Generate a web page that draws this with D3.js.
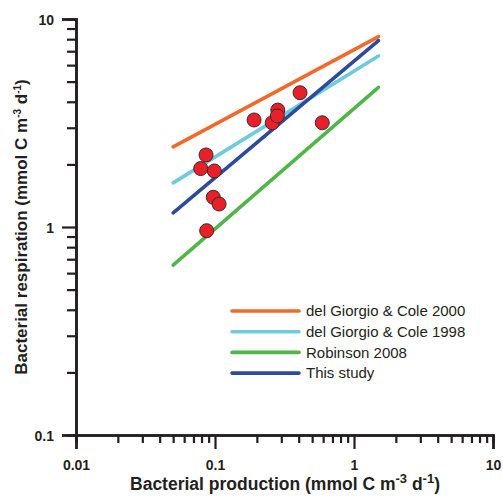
<!DOCTYPE html>
<html>
<head>
<meta charset="utf-8">
<script src="https://cdn.jsdelivr.net/npm/d3@7"></script>
<style>
  body { margin: 0; background: #fff; }
  text { font-family: "Liberation Sans", Arial, sans-serif; fill: #231f20; }
</style>
</head>
<body>
<svg id="chart"></svg>
<script>
// data
var bpValues = [0.409, 0.191, 0.283, 0.258, 0.281, 0.591, 0.0862, 0.0789, 0.0989, 0.0972, 0.107, 0.0871];
var brValues = [4.42, 3.27, 3.65, 3.17, 3.42, 3.17, 2.22, 1.91, 1.86, 1.39, 1.29, 0.96];

// regression lines, start and end (x = 0.05 .. 1.5)
var lineNames = ['del Giorgio & Cole 2000', 'del Giorgio & Cole 1998', 'Robinson 2008', 'This study'];
var lineColors = ['#f26a2a', '#6dcbdd', '#4fb648', '#2d4a9c'];
var lineX = [0.05, 1.5];
var lineStart = [2.43, 1.63, 0.656, 1.17];
var lineEnd = [8.22, 6.64, 4.69, 7.87];

var xTicks = [0.01, 0.1, 1, 10];
var yTicks = [0.1, 1, 10];

var config = { width: 503, height: 497 };
var margin = { top: 19, right: 10, bottom: 62, left: 76 },
  width = 493 - margin.left,
  height = 435 - margin.top;

var svg = d3.select('#chart')
  .attr('width', config.width)
  .attr('height', config.height);

var g = svg.append('g')
  .attr('transform', 'translate(' + margin.left + ',' + margin.top + ')');

var x = d3.scaleLog().domain([0.01, 10]).range([0, width]);
var y = d3.scaleLog().domain([0.1, 10]).range([height, 0]);

// minor ticks
function minors(lo, hi) {
  var out = [];
  for (var e = lo; e < hi; e++) {
    for (var k = 2; k <= 9; k++) out.push(k * Math.pow(10, e));
  }
  return out;
}

var xMinor = g.append('g')
  .attr('transform', 'translate(0,' + height + ')')
  .call(d3.axisBottom(x).tickValues(minors(-2, 1)).tickSize(8).tickFormat(''));
var yMinor = g.append('g')
  .call(d3.axisLeft(y).tickValues(minors(-1, 1)).tickSize(9).tickFormat(''));

var xAxis = g.append('g')
  .attr('transform', 'translate(0,' + height + ')')
  .call(d3.axisBottom(x).tickValues(xTicks).tickSize(14).tickPadding(11)
    .tickFormat(function(d) { return d >= 1 ? d3.format('d')(d) : String(d); }));
var yAxis = g.append('g')
  .call(d3.axisLeft(y).tickValues(yTicks).tickSize(14).tickPadding(8)
    .tickFormat(function(d) { return d >= 1 ? d3.format('d')(d) : String(d); }));

[xMinor, yMinor, xAxis, yAxis].forEach(function(a) {
  a.selectAll('.domain').attr('stroke', '#231f20').attr('stroke-width', 2.6);
  a.selectAll('.tick line').attr('stroke', '#231f20').attr('stroke-width', 2.2);
  a.selectAll('.tick text')
    .style('font-size', '14px')
    .style('font-weight', 'bold')
    .attr('fill', '#231f20');
});
yAxis.selectAll('.tick text').attr('dy', '0.36em');

// regression lines
var line = d3.line()
  .x(function(d) { return x(d[0]); })
  .y(function(d) { return y(d[1]); });

lineNames.forEach(function(name, i) {
  g.append('path')
    .datum([[lineX[0], lineStart[i]], [lineX[1], lineEnd[i]]])
    .attr('d', line)
    .attr('fill', 'none')
    .attr('stroke', lineColors[i])
    .attr('stroke-width', 3.6)
    .attr('stroke-linecap', 'round');
});

// data points
g.selectAll('circle')
  .data(bpValues.map(function(v, i) { return [v, brValues[i]]; }))
  .enter()
  .append('circle')
  .attr('cx', function(d) { return x(d[0]); })
  .attr('cy', function(d) { return y(d[1]); })
  .attr('r', 7)
  .attr('fill', '#e8202a')
  .attr('stroke', '#3a2a2a')
  .attr('stroke-width', 1);

// legend
var legend = svg.append('g').attr('transform', 'translate(232,311)');
lineNames.forEach(function(name, i) {
  var row = legend.append('g').attr('transform', 'translate(0,' + (i * 20.7) + ')');
  row.append('line')
    .attr('x1', 0).attr('x2', 67)
    .attr('stroke', lineColors[i])
    .attr('stroke-width', 3.6)
    .attr('stroke-linecap', 'round');
  row.append('text')
    .attr('x', 74)
    .attr('dy', '0.35em')
    .style('font-size', '15px')
    .text(name);
});

// axis titles
var xt = svg.append('text')
  .attr('x', 285)
  .attr('y', 490)
  .attr('text-anchor', 'middle')
  .style('font-size', '17.5px')
  .style('font-weight', 'bold');
xt.append('tspan').text('Bacterial production (mmol C m');
xt.append('tspan').attr('dy', -7).style('font-size', '13px').text('-3');
xt.append('tspan').attr('dy', 7).text(' d');
xt.append('tspan').attr('dy', -7).style('font-size', '13px').text('-1');
xt.append('tspan').attr('dy', 7).text(')');

var yt = svg.append('text')
  .attr('transform', 'translate(27,227) rotate(-90)')
  .attr('text-anchor', 'middle')
  .style('font-size', '17px')
  .style('font-weight', 'bold');
yt.append('tspan').text('Bacterial respiration (mmol C m');
yt.append('tspan').attr('dy', -6).style('font-size', '10px').text('-3');
yt.append('tspan').attr('dy', 6).text(' d');
yt.append('tspan').attr('dy', -6).style('font-size', '10px').text('-1');
yt.append('tspan').attr('dy', 6).text(')');
</script>
</body>
</html>
